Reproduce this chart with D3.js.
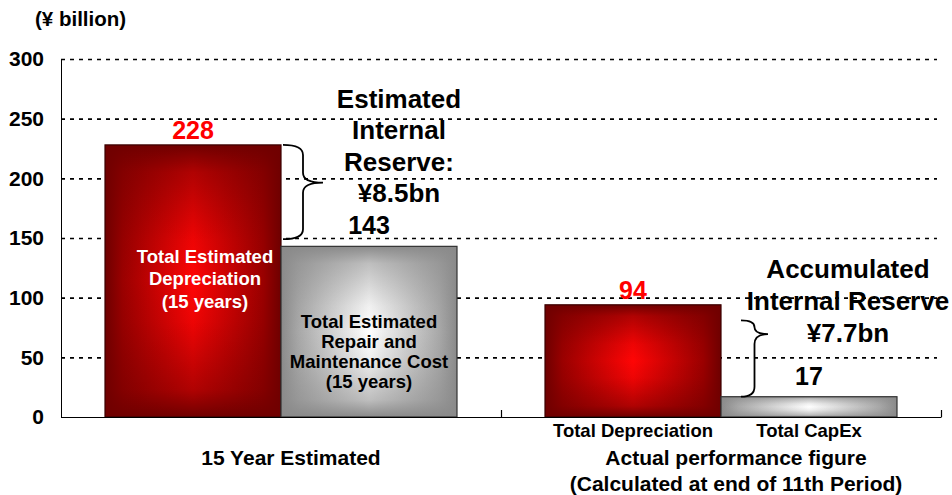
<!DOCTYPE html>
<html><head><meta charset="utf-8">
<script src="https://cdn.jsdelivr.net/npm/d3@7"></script>
<style>
body{margin:0;background:#fff}
svg{display:block}
text{font-family:"Liberation Sans",Arial,Helvetica,sans-serif;font-weight:bold}
</style>
</head><body>
<svg id="c" width="952" height="495"></svg>
<script>
// ---------- data ----------
const groups = ["15 Year Estimated", "Actual performance figure"];
const groupSubtitles = ["", "(Calculated at end of 11th Period)"];
const depreciation = [228, 94];
const maintenanceCapex = [143, 17];
const subCategoryLabels = [["", ""], ["Total Depreciation", "Total CapEx"]];
const insideLabels = [
  [["Total Estimated", "Depreciation", "(15 years)"],
   ["Total Estimated", "Repair and", "Maintenance Cost", "(15 years)"]],
  [[], []]
];
const yTicks = [0, 50, 100, 150, 200, 250, 300];
const unitLabel = "(¥ billion)";
const reserveNotes = [
  ["Estimated", "Internal", "Reserve:", "¥8.5bn"],
  ["Accumulated", "Internal Reserve", "¥7.7bn"]
];
const braceRanges = [[228, 149], [81, 17]];

// ---------- layout ----------
const svg = d3.select("#c");
const P = {left: 61, right: 941, top: 59, bottom: 417};
const y = d3.scaleLinear().domain([0, 300]).range([P.bottom, P.top]);
const x0 = d3.scaleBand().domain(groups).range([P.left, P.right]).paddingInner(0).paddingOuter(0);
const x1 = d3.scaleBand().domain([0, 1]).range([0, x0.bandwidth()]).paddingInner(0).paddingOuter(0.25);
const bw = x1.bandwidth();

// gradients
const defs = svg.append("defs");
function hGrad(id, edge, mid, center) {
  const g = defs.append("linearGradient").attr("id", id).attr("x1", 0).attr("x2", 1).attr("y1", 0).attr("y2", 0);
  [[0, edge], [0.1, mid], [0.5, center], [0.9, mid], [1, edge]].forEach(s =>
    g.append("stop").attr("offset", s[0]).attr("stop-color", s[1]));
}
function vGrad(id, edge) {
  const g = defs.append("linearGradient").attr("id", id).attr("x1", 0).attr("x2", 0).attr("y1", 0).attr("y2", 1);
  [[0, 1], [0.1, 0.55], [0.35, 0.12], [0.5, 0], [0.65, 0.12], [0.9, 0.55], [1, 1]].forEach(s =>
    g.append("stop").attr("offset", s[0]).attr("stop-color", edge).attr("stop-opacity", s[1]));
}
hGrad("hRed", "#6e0000", "#9a0000", "#ff0505");
vGrad("vRed", "#700000");
hGrad("hGray", "#8a8a8a", "#a8a8a8", "#ffffff");
vGrad("vGray", "#8a8a8a");

// gridlines
const grid = svg.append("g").attr("transform", `translate(${P.left},0)`)
  .call(d3.axisLeft(y).tickValues(yTicks.filter(v => v > 0)).tickSize(-(937 - P.left)).tickFormat(""));
grid.select(".domain").remove();
grid.selectAll("line").attr("stroke", "#000").attr("stroke-width", 1.6).attr("stroke-dasharray", "4,5");

// y axis labels
const ya = svg.append("g").attr("transform", `translate(${P.left},0)`)
  .call(d3.axisLeft(y).tickValues(yTicks).tickSize(0).tickPadding(17));
ya.select(".domain").remove();
ya.selectAll("text").attr("font-size", 21).attr("fill", "#000")
  .attr("font-family", '"Liberation Sans",Arial,sans-serif').attr("font-weight", "bold");
svg.append("line").attr("x1", P.left + 0.5).attr("x2", P.left + 0.5).attr("y1", P.top).attr("y2", P.bottom)
  .attr("stroke", "#000").attr("stroke-width", 1);

svg.append("text").attr("x", 35).attr("y", 26).attr("font-size", 20.5).text(unitLabel);

// bars
const series = [depreciation, maintenanceCapex];
const fills = [["hRed", "vRed"], ["hGray", "vGray"]];
groups.forEach((g, gi) => {
  series.forEach((s, si) => {
    const bx = x0(g) + x1(si), by = y(s[gi]), bh = y(0) - y(s[gi]);
    svg.append("rect").attr("x", bx).attr("y", by).attr("width", bw).attr("height", bh).attr("fill", `url(#${fills[si][0]})`);
    svg.append("rect").attr("x", bx).attr("y", by).attr("width", bw).attr("height", bh).attr("fill", `url(#${fills[si][1]})`);
    svg.append("rect").attr("x", bx).attr("y", by).attr("width", bw).attr("height", bh)
      .attr("fill", "none").attr("stroke", si === 0 ? "#3a0000" : "#333").attr("stroke-width", 1.2);
  });
});

// x axis
svg.append("line").attr("x1", P.left).attr("x2", P.right + 0.5).attr("y1", P.bottom + 0.5).attr("y2", P.bottom + 0.5)
  .attr("stroke", "#000").attr("stroke-width", 1.2);
groups.forEach(g => {
  const xe = x0(g) + x0.bandwidth() + 0.5;
  svg.append("line").attr("x1", xe).attr("x2", xe).attr("y1", P.bottom - 7).attr("y2", P.bottom)
    .attr("stroke", "#000").attr("stroke-width", 1.2);
});

// value labels
const labelColor = ["#ff0000", "#000"];
const labelGap = [6, 12];
groups.forEach((g, gi) => {
  series.forEach((s, si) => {
    svg.append("text").attr("x", x0(g) + x1(si) + bw / 2).attr("y", y(s[gi]) - labelGap[si])
      .attr("text-anchor", "middle").attr("font-size", 25).attr("fill", labelColor[si]).text(s[gi]);
  });
});

// inside labels
const insideStyle = [
  {fill: "#fff", dx: 12, start: 118, step: 22.5},
  {fill: "#000", dx: 0, start: 82, step: 19.8}
];
groups.forEach((g, gi) => {
  series.forEach((s, si) => {
    const st = insideStyle[si];
    insideLabels[gi][si].forEach((line, li) => {
      svg.append("text").attr("x", x0(g) + x1(si) + bw / 2 + st.dx).attr("y", y(s[gi]) + st.start + li * st.step)
        .attr("text-anchor", "middle").attr("font-size", 18.5).attr("fill", st.fill).text(line);
    });
  });
});

// sub-category labels
groups.forEach((g, gi) => {
  subCategoryLabels[gi].forEach((t, si) => {
    if (!t) return;
    svg.append("text").attr("x", x0(g) + x1(si) + bw / 2).attr("y", 437)
      .attr("text-anchor", "middle").attr("font-size", 18.5).text(t);
  });
});

// group labels
const groupDx = [10, 15], groupSize = [21, 21];
groups.forEach((g, gi) => {
  const cx = x0(g) + x0.bandwidth() / 2 + groupDx[gi];
  svg.append("text").attr("x", cx).attr("y", 465).attr("text-anchor", "middle").attr("font-size", groupSize[gi]).text(g);
  if (groupSubtitles[gi])
    svg.append("text").attr("x", cx).attr("y", 491).attr("text-anchor", "middle").attr("font-size", groupSize[gi]).text(groupSubtitles[gi]);
});

// braces
function brace(x, yTop, yBot, w, tipY) {
  const xm = x + w * 0.5, xt = x + w;
  const r1 = Math.min(10, (tipY - yTop) / 2), r2 = Math.min(10, (yBot - tipY) / 2);
  return `M${x},${yTop} Q${xm},${yTop} ${xm},${yTop + r1} L${xm},${tipY - r1} Q${xm},${tipY} ${xt},${tipY}` +
         ` Q${xm},${tipY} ${xm},${tipY + r2} L${xm},${yBot - r2} Q${xm},${yBot} ${x},${yBot}`;
}
const braceX = [x0(groups[0]) + x1(0) + bw + 2, x0(groups[1]) + x1(1) + 20];
const braceW = [40, 27];
const braceTipFrac = [0.4, 0.18];
braceRanges.forEach((r, i) => {
  const yt = y(r[0]), yb = y(r[1]);
  svg.append("path").attr("d", brace(braceX[i], yt, yb, braceW[i], yt + (yb - yt) * braceTipFrac[i]))
    .attr("fill", "none").attr("stroke", "#000").attr("stroke-width", 1.8);
});

// reserve notes
const noteCx = [x0(groups[0]) + x1(1) + bw / 2 + 30, x0(groups[1]) + x1(1) + bw / 2 + 39];
const noteTop = [y(braceRanges[0][0]) - 37, y(braceRanges[1][0]) - 42];
const noteStep = [31.5, 32];
reserveNotes.forEach((lines, i) => {
  lines.forEach((t, li) => {
    svg.append("text").attr("x", noteCx[i]).attr("y", noteTop[i] + li * noteStep[i])
      .attr("text-anchor", "middle").attr("font-size", 26).attr("fill", "#000").text(t);
  });
});
</script>
</body></html>
